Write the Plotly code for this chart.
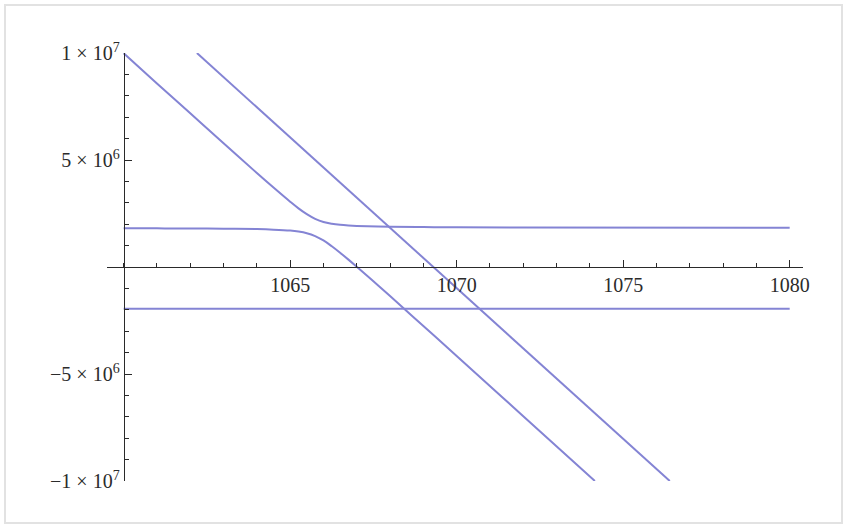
import plotly.graph_objects as go

# Upper branch of the avoided crossing (x, y)
upper_x = [1060, 1061, 1062, 1063, 1064, 1064.5, 1065, 1065.25, 1065.5, 1065.75,
           1066, 1066.25, 1066.5, 1066.75, 1067, 1068, 1069, 1070, 1072, 1080]
upper_y = [9.99e6, 8.58e6, 7.18e6, 5.78e6, 4.39e6, 3.71e6, 3.05e6, 2.74e6, 2.47e6, 2.25e6,
           2.10e6, 2.02e6, 1.97e6, 1.94e6, 1.92e6, 1.88e6, 1.865e6, 1.856e6, 1.848e6, 1.838e6]

# Lower branch of the avoided crossing
lower_x = [1060, 1061, 1062, 1063, 1064, 1064.5, 1065, 1065.25, 1065.5, 1065.75,
           1066, 1066.25, 1066.5, 1066.75, 1067, 1067.5, 1068, 1069, 1070, 1072, 1074.15]
lower_y = [1.81e6, 1.806e6, 1.80e6, 1.79e6, 1.77e6, 1.745e6, 1.70e6, 1.655e6, 1.578e6, 1.445e6,
           1.24e6, 0.97e6, 0.667e6, 0.344e6, 0.011e6, -0.67e6, -1.36e6, -2.756e6, -4.157e6, -6.97e6, -1.0e7]

# Straight level crossing both branches
diag_x = [1062.2, 1076.4]
diag_y = [1.0e7, -1.0e7]

# Flat level below the axis
flat_x = [1060, 1080]
flat_y = [-1.95e6, -1.95e6]

x_tickvals = [1065, 1070, 1075, 1080]
x_ticktext = ["1065", "1070", "1075", "1080"]
y_tickvals = [-1e7, -5e6, 5e6, 1e7]
y_ticktext = ["\u22121 \u00d7 10<sup>7</sup>", "\u22125 \u00d7 10<sup>6</sup>",
              "5 \u00d7 10<sup>6</sup>", "1 \u00d7 10<sup>7</sup>"]

line_color = "#8484d4"
axis_color = "#2a2a2a"
x_range = [1059.5, 1080.4]
y_range = [-1.0e7, 1.0e7]

fig = go.Figure()
for xs, ys in [(upper_x, upper_y), (lower_x, lower_y), (diag_x, diag_y), (flat_x, flat_y)]:
    fig.add_trace(go.Scatter(x=xs, y=ys, mode="lines", line_shape="spline",
                             line=dict(color=line_color, width=2), hoverinfo="skip",
                             showlegend=False))

y_axis_pos = (1060 - x_range[0]) / (x_range[1] - x_range[0])

fig.update_layout(
    width=846, height=531,
    margin=dict(l=107, r=43, t=53, b=50),
    paper_bgcolor="white", plot_bgcolor="white",
    font=dict(family="Liberation Serif", size=20, color="#2b2b2b"),
    xaxis=dict(range=x_range, showgrid=False, zeroline=False,
               anchor="free", position=0.5,
               showline=True, linecolor=axis_color, linewidth=1,
               tickmode="array", tickvals=x_tickvals, ticktext=x_ticktext,
               ticks="inside", ticklen=7, tickcolor=axis_color, tickwidth=1,
               minor=dict(tick0=1060, dtick=1, ticks="inside", ticklen=4,
                          tickcolor=axis_color, tickwidth=1, showgrid=False)),
    yaxis=dict(range=y_range, showgrid=False, zeroline=False,
               anchor="free", position=y_axis_pos,
               showline=True, linecolor=axis_color, linewidth=1,
               tickmode="array", tickvals=y_tickvals, ticktext=y_ticktext,
               ticks="inside", ticklen=7, tickcolor=axis_color, tickwidth=1,
               minor=dict(tick0=0, dtick=1e6, ticks="inside", ticklen=4,
                          tickcolor=axis_color, tickwidth=1, showgrid=False)),
    shapes=[dict(type="rect", xref="paper", yref="paper",
                 x0=-102 / 696, x1=(842 - 107) / 696,
                 y0=(531 - 523 - 50) / 428, y1=(531 - 5 - 50) / 428,
                 line=dict(color="#e2e2e2", width=2), layer="below")],
)

fig.write_html("out.html")
